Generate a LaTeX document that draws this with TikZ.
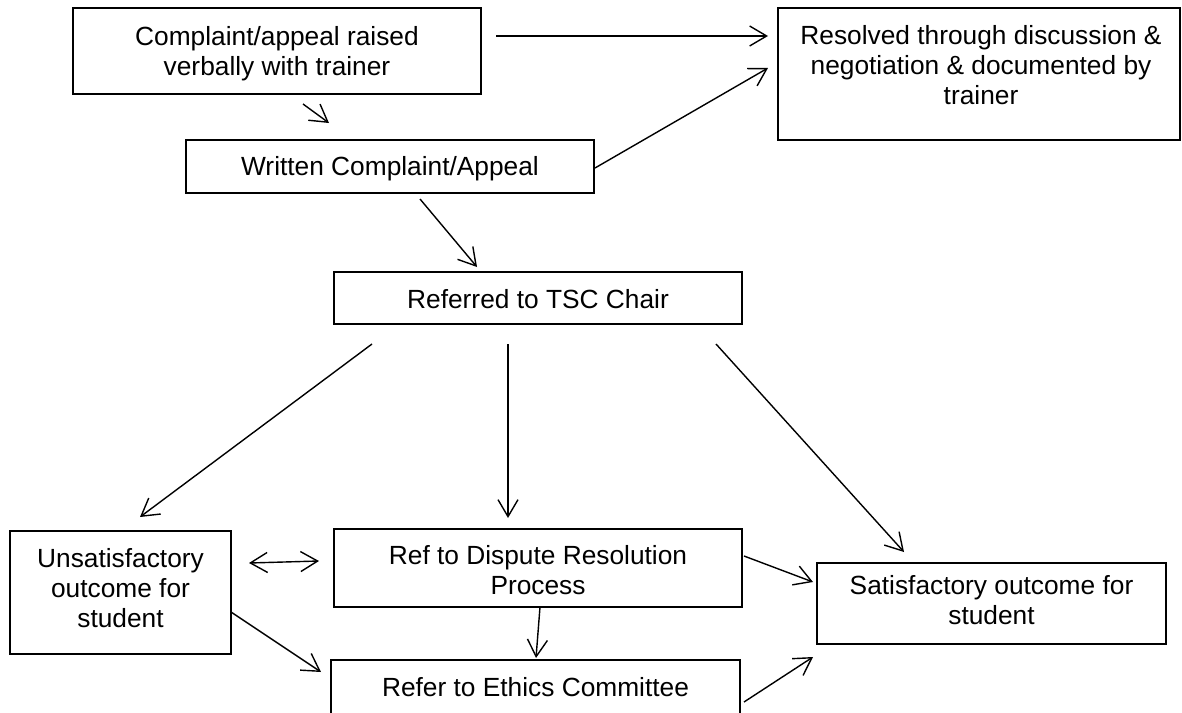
\documentclass[tikz,border=0pt]{standalone}
\usepackage{fontspec}
\setmainfont{Liberation Sans}
\usetikzlibrary{arrows.meta}
\begin{document}
\begin{tikzpicture}[x=1pt,y=-1pt,
  box/.style={draw, line width=1.6pt, inner sep=0pt},
  txt/.style={align=center, font=\fontsize{26.3}{30}\selectfont, inner sep=0pt},
  arr/.style={line width=1.4pt, -{Straight Barb[length=17pt,width=20pt]}},
  darr/.style={line width=1.4pt, {Straight Barb[length=17pt,width=20pt]}-{Straight Barb[length=17pt,width=20pt]}}]
\clip (0,0) rectangle (1182,712);
\fill[white] (0,0) rectangle (1182,712);
% boxes
\node[box, minimum width=408pt, minimum height=86pt] (c1) at (277,51) {};
\node[box, minimum width=402pt, minimum height=132pt] (res) at (979,74) {};
\node[box, minimum width=408pt, minimum height=53pt] (wr) at (390,166.5) {};
\node[box, minimum width=408pt, minimum height=52pt] (tsc) at (538,298) {};
\node[box, minimum width=221pt, minimum height=123pt] (uns) at (120.5,592.5) {};
\node[box, minimum width=408pt, minimum height=78pt] (dis) at (538,568) {};
\node[box, minimum width=349pt, minimum height=81pt] (sat) at (991.5,603.5) {};
\node[box, minimum width=409pt, minimum height=60pt] (eth) at (535.5,690) {};
% texts
\node[txt] (c1t) at (277,54) {Complaint/appeal raised\\verbally with trainer};
\node[txt] (rest) at (981,65) {Resolved through discussion \&\\negotiation \& documented by\\trainer};
\node[txt] (wrt) at (390,169) {Written Complaint/Appeal};
\node[txt] (tsct) at (538,299) {Referred to TSC Chair};
\node[txt] (unst) at (120.5,588) {Unsatisfactory\\outcome for\\student};
\node[txt] (dist) at (538,570) {Ref to Dispute Resolution\\Process};
\node[txt] (satt) at (991.5,600) {Satisfactory outcome for\\student};
\node[txt] (etht) at (535.5,687) {Refer to Ethics Committee};
% connector end points
\coordinate (a1s) at (496,36);  \coordinate (a1e) at (768,36);
\coordinate (a2s) at (303,104); \coordinate (a2e) at (329,123);
\coordinate (a3s) at (595,168); \coordinate (a3e) at (768,68);
\coordinate (a4s) at (420,199); \coordinate (a4e) at (477,267);
\coordinate (a5s) at (372,344); \coordinate (a5e) at (140,517);
\coordinate (a6s) at (508,344); \coordinate (a6e) at (508,518);
\coordinate (a7s) at (716,344); \coordinate (a7e) at (904,552);
\coordinate (a8s) at (249,563); \coordinate (a8e) at (319,561);
\coordinate (a9s) at (744,556); \coordinate (a9e) at (813,582);
\coordinate (a10s) at (231,612); \coordinate (a10e) at (321,672);
\coordinate (a11s) at (540,607); \coordinate (a11e) at (536,658);
\coordinate (a12s) at (744,702); \coordinate (a12e) at (813,657);
% connectors
\draw[arr] (a1s) -- (a1e);
\draw[arr] (a2s) -- (a2e);
\draw[arr] (a3s) -- (a3e);
\draw[arr] (a4s) -- (a4e);
\draw[arr] (a5s) -- (a5e);
\draw[arr] (a6s) -- (a6e);
\draw[arr] (a7s) -- (a7e);
\draw[darr] (a8s) -- (a8e);
\draw[arr] (a9s) -- (a9e);
\draw[arr] (a10s) -- (a10e);
\draw[arr] (a11s) -- (a11e);
\draw[arr] (a12s) -- (a12e);
\end{tikzpicture}
\end{document}
